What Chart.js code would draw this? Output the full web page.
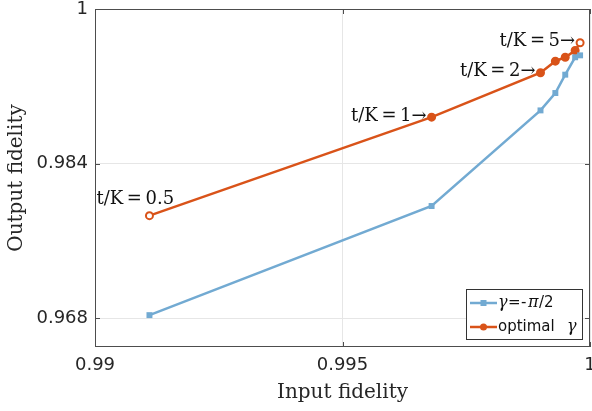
<!DOCTYPE html>
<html>
<head>
<meta charset="utf-8">
<script src="https://cdn.jsdelivr.net/npm/chart.js@4.4.1/dist/chart.umd.min.js"></script>
<style>
    html, body { margin: 0; padding: 0; background: #ffffff; }
    #wrap { width: 592px; height: 411px; }
</style>
</head>
<body>
<div id="wrap"><canvas id="fidelityChart" width="592" height="411"></canvas></div>
<script>
// input fidelity (x) for both curves
const inputFidelity = [0.9911, 0.9968, 0.9990, 0.9993, 0.9995, 0.9997, 0.9998];
// output fidelity for gamma = -pi/2
const fixedGamma = [0.9683, 0.9796, 0.9895, 0.9913, 0.9932, 0.9950, 0.9952];
// output fidelity for optimal gamma
const optimalGamma = [0.9786, 0.9888, 0.9934, 0.9946, 0.9950, 0.9957, 0.9965];
const pointNotes = ["t/K\u2009=\u20090.5", "t/K\u2009=\u20091\u2192", "t/K\u2009=\u20092\u2192", null, null, null, "t/K\u2009=\u20095\u2192"];

const xTicks = [0.99, 0.995, 1];
const yTicks = [0.968, 0.984, 1];

const blue = "#72aad2";
const orange = "#d95319";
const sans = "'DejaVu Sans', sans-serif";
const serif = "'DejaVu Serif', serif";

function toPoints(ys) {
    return inputFidelity.map((x, i) => ({ x: x, y: ys[i] }));
}

// labels next to the optimal-gamma points
const notesPlugin = {
    id: "notes",
    afterDatasetsDraw(chart) {
        const ctx = chart.ctx;
        const meta = chart.getDatasetMeta(1);
        ctx.save();
        ctx.fillStyle = "#111111";
        ctx.font = "18px " + serif;
        ctx.textBaseline = "middle";
        pointNotes.forEach((txt, i) => {
            if (!txt) return;
            const p = meta.data[i];
            if (i === 0) {
                ctx.textAlign = "left";
                ctx.fillText(txt, p.x - 53, p.y - 16);
            } else {
                ctx.textAlign = "right";
                ctx.fillText(txt, p.x - 5, p.y - 1);
            }
        });
        ctx.restore();
    }
};

// box around plot, inward ticks, matlab-like legend in the lower right
const framePlugin = {
    id: "frame",
    afterDraw(chart) {
        const ctx = chart.ctx;
        const a = chart.chartArea;
        const xs = chart.scales.x, ys = chart.scales.y;
        ctx.save();
        ctx.strokeStyle = "#4d4d4d";
        ctx.lineWidth = 1;
        ctx.strokeRect(a.left + 0.5, a.top + 0.5, a.right - a.left - 1, a.bottom - a.top - 1);
        ctx.beginPath();
        xTicks.forEach(v => {
            const px = Math.round(xs.getPixelForValue(v)) + 0.5;
            ctx.moveTo(px, a.bottom); ctx.lineTo(px, a.bottom - 5);
            ctx.moveTo(px, a.top); ctx.lineTo(px, a.top + 5);
        });
        yTicks.forEach(v => {
            const py = Math.round(ys.getPixelForValue(v)) + 0.5;
            ctx.moveTo(a.left, py); ctx.lineTo(a.left + 5, py);
            ctx.moveTo(a.right, py); ctx.lineTo(a.right - 5, py);
        });
        ctx.stroke();

        const bw = 116, bh = 50;
        const bx = Math.round(a.right - 8 - bw), by = Math.round(a.bottom - 8 - bh);
        ctx.fillStyle = "#ffffff";
        ctx.fillRect(bx, by, bw, bh);
        ctx.strokeStyle = "#333333";
        ctx.strokeRect(bx + 0.5, by + 0.5, bw, bh);

        const rows = [
            { color: blue, style: "rect", y: by + 14 },
            { color: orange, style: "circle", y: by + 38 }
        ];
        rows.forEach(r => {
            ctx.strokeStyle = r.color;
            ctx.lineWidth = 2.5;
            ctx.beginPath();
            ctx.moveTo(bx + 4, r.y);
            ctx.lineTo(bx + 31, r.y);
            ctx.stroke();
            ctx.fillStyle = r.color;
            if (r.style === "rect") {
                ctx.fillRect(bx + 14.5, r.y - 3, 6, 6);
            } else {
                ctx.beginPath();
                ctx.arc(bx + 17.5, r.y, 3.5, 0, Math.PI * 2);
                ctx.fill();
            }
        });

        ctx.fillStyle = "#111111";
        ctx.textBaseline = "middle";
        ctx.textAlign = "left";
        const y0 = rows[0].y, y1 = rows[1].y;
        ctx.font = "italic 16px " + serif;
        ctx.fillText("\u03b3", bx + 32, y0);
        ctx.font = "15px " + sans;
        ctx.fillText("=", bx + 42, y0);
        ctx.fillText("-", bx + 55, y0);
        ctx.font = "italic 16px " + serif;
        ctx.fillText("\u03c0", bx + 62, y0);
        ctx.font = "15px " + sans;
        ctx.fillText("/2", bx + 73, y0);

        ctx.fillText("optimal", bx + 32, y1);
        ctx.font = "italic 16px " + serif;
        ctx.fillText("\u03b3", bx + 101, y1);
        ctx.restore();
    }
};

const ctx = document.getElementById("fidelityChart");

new Chart(ctx, {
    type: "line",
    data: {
        datasets: [{
            label: "\u03b3=-\u03c0/2",
            data: toPoints(fixedGamma),
            borderColor: blue,
            backgroundColor: blue,
            borderWidth: 2.5,
            pointStyle: "rect",
            pointRadius: 4.2,
            pointBorderWidth: 0,
            pointBackgroundColor: blue
        }, {
            label: "optimal \u03b3",
            data: toPoints(optimalGamma),
            borderColor: orange,
            backgroundColor: orange,
            borderWidth: 2.5,
            pointStyle: "circle",
            pointRadius: 3.5,
            pointBorderWidth: 2,
            pointBackgroundColor: optimalGamma.map((v, i) => (i === 0 || i === optimalGamma.length - 1) ? "#ffffff" : orange)
        }]
    },
    options: {
        responsive: false,
        animation: false,
        layout: { autoPadding: false, padding: { left: 0, right: 2, top: 9, bottom: 0 } },
        plugins: {
            legend: { display: false },
            tooltip: { enabled: false }
        },
        scales: {
            x: {
                type: "linear",
                min: 0.99,
                max: 1,
                afterBuildTicks: s => { s.ticks = xTicks.map(v => ({ value: v })); },
                afterFit: s => { s.height = 64; s.paddingLeft = 0; s.paddingRight = 0; },
                grid: { color: "#e6e6e6", drawTicks: false },
                border: { display: false },
                ticks: {
                    color: "#262626",
                    padding: 8,
                    maxRotation: 0,
                    font: { family: sans, size: 18 },
                    callback: v => String(Number(v.toFixed(3)))
                },
                title: {
                    display: true,
                    text: "Input fidelity",
                    color: "#262626",
                    padding: { top: 0, bottom: 6 },
                    font: { family: serif, size: 20 }
                }
            },
            y: {
                type: "linear",
                min: 0.965,
                max: 1,
                afterBuildTicks: s => { s.ticks = yTicks.map(v => ({ value: v })); },
                afterFit: s => { s.width = 95; s.paddingTop = 0; s.paddingBottom = 0; },
                grid: { color: "#e6e6e6", drawTicks: false },
                border: { display: false },
                ticks: {
                    color: "#262626",
                    padding: 7,
                    font: { family: sans, size: 18 },
                    callback: v => String(Number(v.toFixed(3)))
                },
                title: {
                    display: true,
                    text: "Output fidelity",
                    color: "#262626",
                    padding: { top: 5, bottom: 0 },
                    font: { family: serif, size: 20 }
                }
            }
        }
    },
    plugins: [notesPlugin, framePlugin]
});
</script>
</body>
</html>
